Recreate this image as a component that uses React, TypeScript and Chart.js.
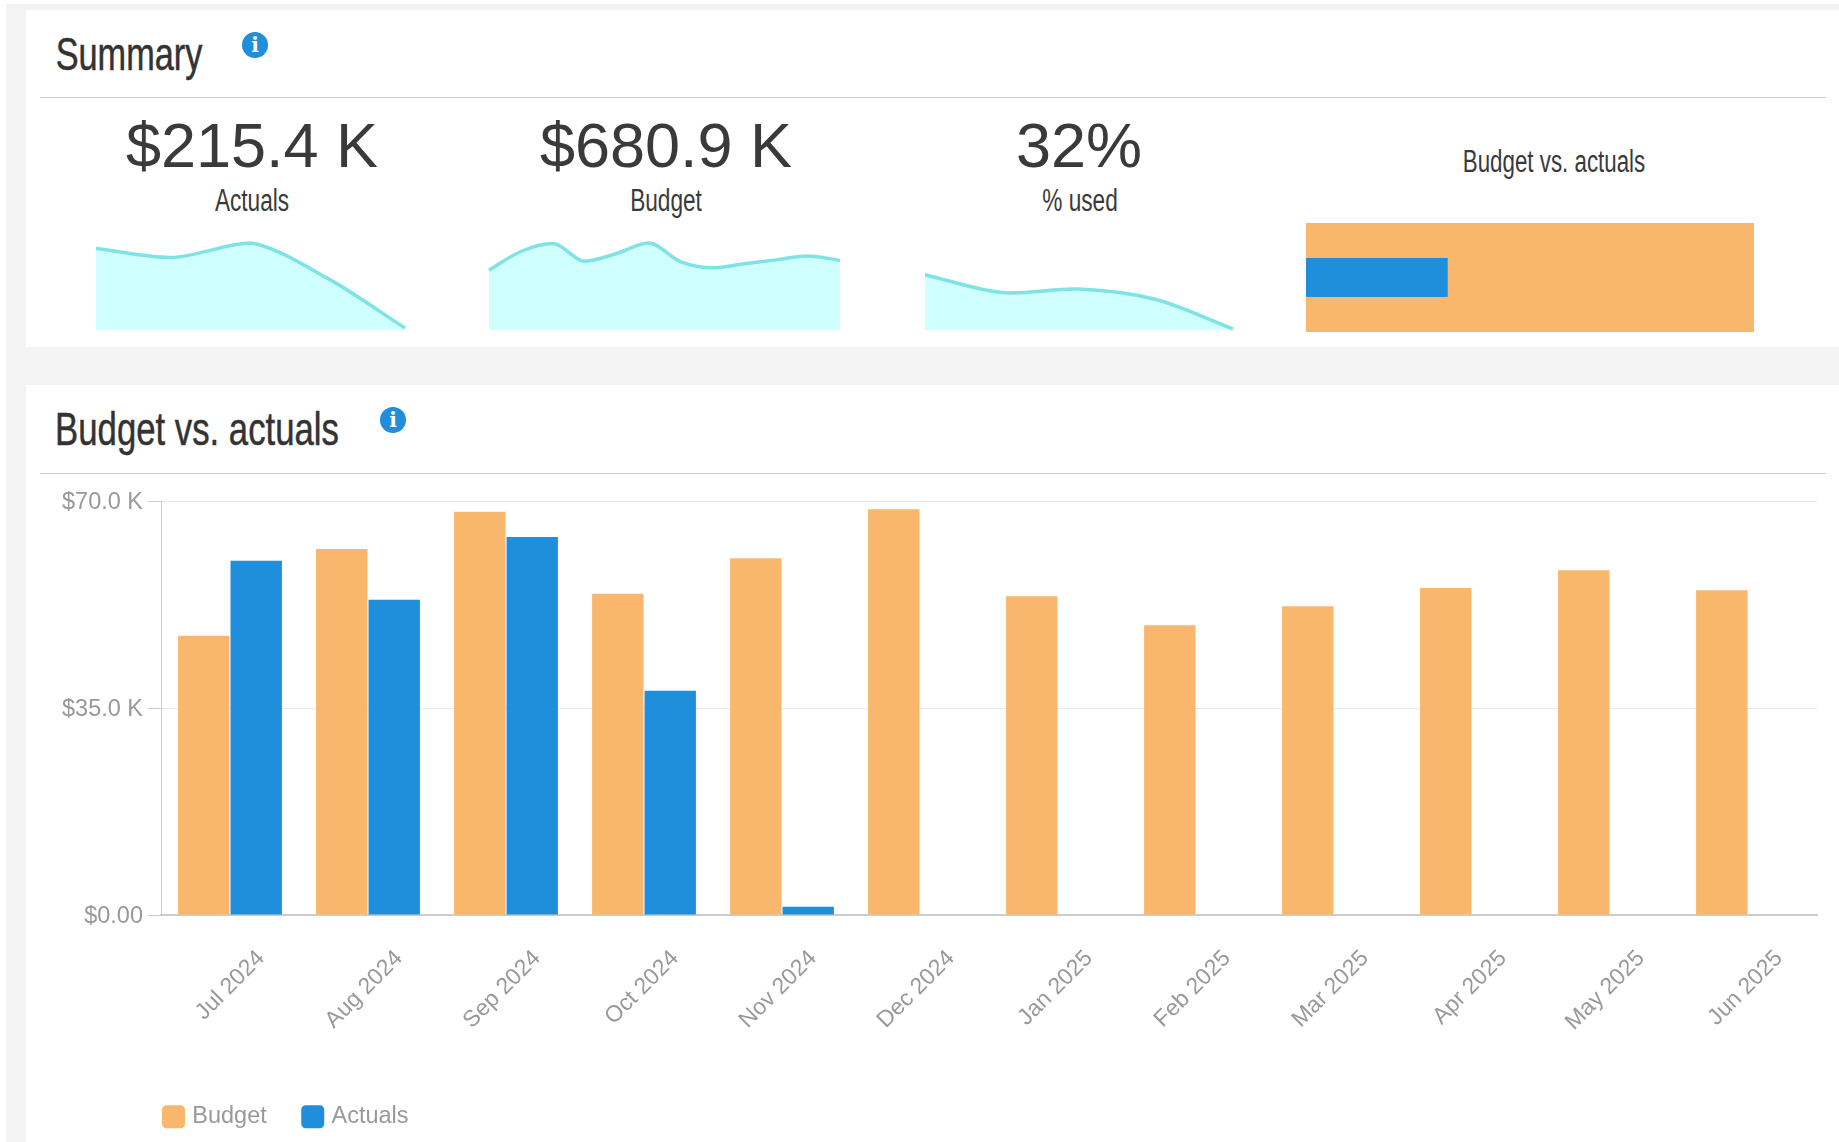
import React, { useEffect, useRef } from "react";
import { Chart, registerables } from "chart.js";

Chart.register(...registerables);

const months = ["Jul 2024", "Aug 2024", "Sep 2024", "Oct 2024", "Nov 2024", "Dec 2024", "Jan 2025", "Feb 2025", "Mar 2025", "Apr 2025", "May 2025", "Jun 2025"];
const budgetValues = [47.2, 61.9, 68.2, 54.3, 60.3, 68.6, 53.9, 49.0, 52.2, 55.3, 58.3, 54.9];
const actualValues = [59.9, 53.3, 63.9, 37.9, 1.4];
const usedPercent = [127, 86, 94, 70, 2.3];
const actualsTotal = [215.4];
const budgetTotal = [680.9];

const ORANGE = "#f9b66d";
const BLUE = "#1f8fdb";
const LABEL_FONT = '"Liberation Sans", Arial, sans-serif';
const GRAY = "#999999";

function textStyle(cx: number, cy: number, size: number, narrow: boolean, sx = 1, color = "#3a3a3a"): React.CSSProperties {
  return {
    position: "absolute", left: cx, top: cy, whiteSpace: "nowrap", fontSize: size, color, lineHeight: 1,
    fontFamily: narrow ? '"Liberation Sans Narrow", "Liberation Sans", sans-serif' : LABEL_FONT,
    transform: `translate(-50%,-50%) scaleX(${sx})`,
  };
}

function Box(props: { x: number; y: number; w: number; h: number; c: string }) {
  return <div style={{ position: "absolute", left: props.x, top: props.y, width: props.w, height: props.h, background: props.c }} />;
}

function InfoIcon(props: { x: number; y: number }) {
  return (
    <div style={{
      position: "absolute", left: props.x - 13, top: props.y - 13, width: 26, height: 26, borderRadius: 13, background: BLUE,
      color: "#fff", fontFamily: '"DejaVu Serif", serif', fontWeight: 700, fontSize: 20, lineHeight: "26px", textAlign: "center",
    }}>i</div>
  );
}

function sparkChart(canvas: HTMLCanvasElement, labels: string[], values: number[], max: number, monotone: boolean) {
  return new Chart(canvas, {
    type: "line",
    data: {
      labels,
      datasets: [{
        data: values, borderColor: "#7fe3e6", backgroundColor: "#d0ffff", borderWidth: 3.5, fill: "origin",
        pointRadius: 0, clip: false as any,
        ...(monotone ? { cubicInterpolationMode: "monotone" as const } : { tension: 0.3 }),
      }],
    },
    options: {
      animation: false, responsive: false,
      layout: { padding: { left: 6, right: 6, top: 8, bottom: 6 } },
      plugins: { legend: { display: false }, tooltip: { enabled: false } },
      scales: {
        x: { display: false, offset: false },
        y: { display: false, min: 0, max },
      },
    },
  });
}

export default function App() {
  const s1 = useRef<HTMLCanvasElement>(null);
  const s2 = useRef<HTMLCanvasElement>(null);
  const s3 = useRef<HTMLCanvasElement>(null);
  const bullet = useRef<HTMLCanvasElement>(null);
  const main = useRef<HTMLCanvasElement>(null);

  useEffect(() => {
    const charts: Chart[] = [];
    charts.push(sparkChart(s1.current!, months.slice(0, 5), actualValues, 63.9, false));
    charts.push(sparkChart(s2.current!, months, budgetValues, 68.6, true));
    charts.push(sparkChart(s3.current!, months.slice(0, 5), usedPercent, 200, false));

    charts.push(new Chart(bullet.current!, {
      type: "bar",
      data: {
        labels: ["Budget vs. actuals"],
        datasets: [
          { label: "Actuals", data: actualsTotal, backgroundColor: BLUE, barPercentage: 0.36, categoryPercentage: 1, order: 0, grouped: false } as any,
          { label: "Budget", data: budgetTotal, backgroundColor: ORANGE, barPercentage: 1, categoryPercentage: 1, order: 1, grouped: false } as any,
        ],
      },
      options: {
        indexAxis: "y", animation: false, responsive: false,
        plugins: { legend: { display: false }, tooltip: { enabled: false } },
        scales: { x: { display: false, min: 0, max: budgetTotal[0] }, y: { display: false } },
      },
    }));

    const moveLegend = {
      id: "moveLegend",
      afterLayout(chart: any) {
        if (chart.legend) { chart.legend.left = 101.5; chart.legend.top = 591; }
      },
    };

    charts.push(new Chart(main.current!, {
      type: "bar",
      data: {
        labels: months,
        datasets: [
          { label: "Budget", data: budgetValues, backgroundColor: ORANGE, barPercentage: 0.98, categoryPercentage: 0.76 },
          { label: "Actuals", data: actualValues, backgroundColor: BLUE, barPercentage: 0.98, categoryPercentage: 0.76 },
        ],
      },
      plugins: [moveLegend],
      options: {
        animation: false, responsive: false,
        layout: { padding: { top: 26, right: 22, left: 0, bottom: 0 } },
        plugins: {
          tooltip: { enabled: false },
          legend: {
            position: "bottom", align: "start",
            labels: {
              boxWidth: 14, boxHeight: 14, padding: 39, color: GRAY,
              font: { family: LABEL_FONT, size: 23.5 },
              generateLabels(chart: any) {
                return Chart.defaults.plugins.legend.labels.generateLabels(chart).map((item: any) => ({
                  ...item, strokeStyle: item.fillStyle, lineWidth: 9, lineJoin: "round",
                }));
              },
            },
          },
        },
        scales: {
          x: {
            grid: { display: false },
            border: { color: "#cccccc", width: 2 },
            ticks: { color: GRAY, font: { family: LABEL_FONT, size: 23 }, minRotation: 45, maxRotation: 45, labelOffset: 31, padding: 22, autoSkip: false },
            afterFit(scale: any) { scale.height = 227 - (scale.chart.legend?.height ?? 0); },
          },
          y: {
            min: 0, max: 70,
            grid: { color: "#e8e8e8", tickColor: "#cccccc", tickLength: 13 },
            border: { color: "#cccccc" },
            ticks: {
              stepSize: 35, color: GRAY, padding: 5, labelOffset: 2, font: { family: LABEL_FONT, size: 23.5 },
              callback: (v: any) => (v === 0 ? "$0.00" : `$${Number(v).toFixed(1)} K`),
            },
            afterFit(scale: any) { scale.width = 135; },
          },
        },
      },
    }));
    return () => charts.forEach((c) => c.destroy());
  }, []);

  const abs = (x: number, y: number): React.CSSProperties => ({ position: "absolute", left: x, top: y });
  const heading: React.CSSProperties = { WebkitTextStroke: "0.5px #333" };

  return (
    <div style={{ position: "absolute", left: 0, top: 0, width: 1839, height: 1142, overflow: "hidden", background: "#fff" }}>
      <Box x={6} y={4} w={1833} h={1138} c="#f3f3f3" />
      <Box x={26} y={10} w={1813} h={337} c="#fff" />
      <Box x={26} y={385} w={1813} h={757} c="#fff" />
      <Box x={40} y={97} w={1786} h={1} c="#cfcfcf" />
      <Box x={40} y={473} w={1786} h={1} c="#cfcfcf" />

      <div style={{ ...textStyle(128.5, 54, 46, true, 0.745, "#333"), ...heading }}>Summary</div>
      <InfoIcon x={255} y={45} />
      <div style={{ ...textStyle(197, 429, 46, true, 0.755, "#333"), ...heading }}>Budget vs. actuals</div>
      <InfoIcon x={393} y={420} />

      <div style={textStyle(252, 145, 63, false)}>$215.4 K</div>
      <div style={textStyle(252, 200, 31, true, 0.73)}>Actuals</div>
      <div style={textStyle(666, 145, 63, false)}>$680.9 K</div>
      <div style={textStyle(666, 200, 31, true, 0.73)}>Budget</div>
      <div style={textStyle(1079, 145, 63, false)}>32%</div>
      <div style={textStyle(1080, 200, 31, true, 0.73)}>% used</div>
      <div style={textStyle(1554, 161, 31, true, 0.72)}>Budget vs. actuals</div>

      <canvas ref={s1} width={321} height={101} style={abs(90, 235)} />
      <canvas ref={s2} width={363} height={101} style={abs(483, 235)} />
      <canvas ref={s3} width={320} height={101} style={abs(919, 235)} />
      <canvas ref={bullet} width={448} height={109} style={abs(1306, 223)} />
      <canvas ref={main} width={1813} height={667} style={abs(26, 475)} />
    </div>
  );
}
